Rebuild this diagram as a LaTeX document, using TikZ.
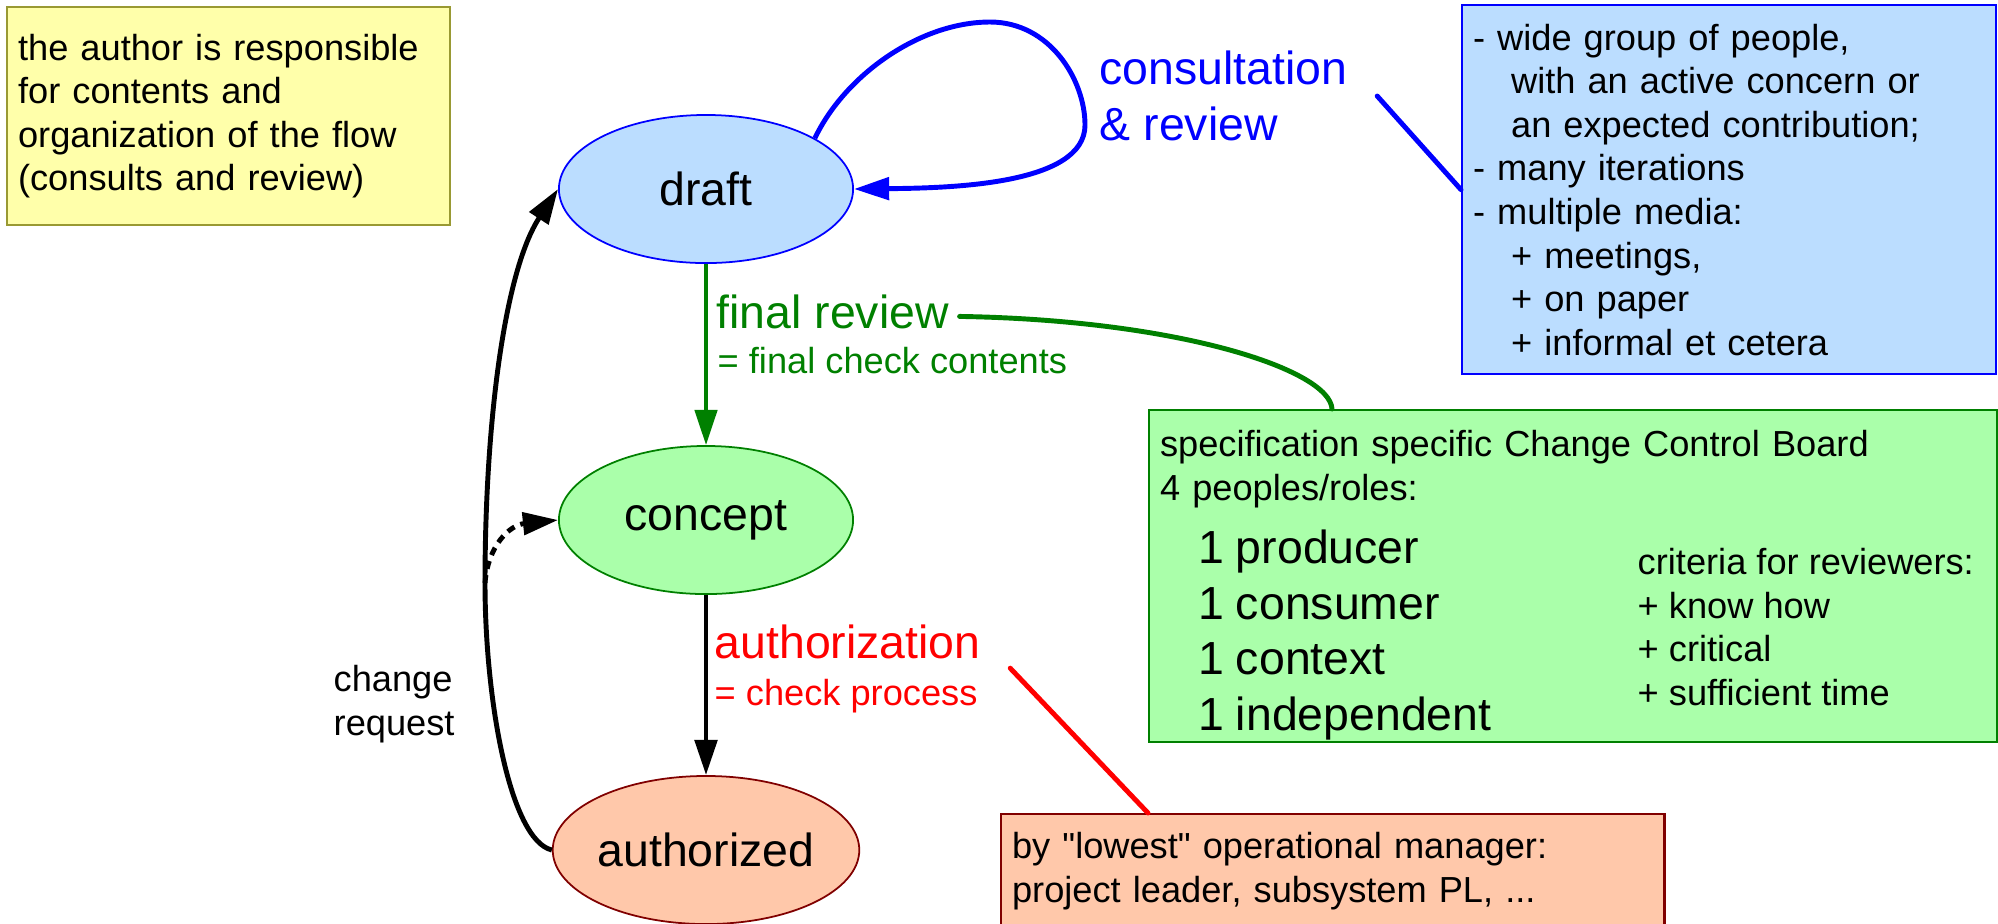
\documentclass[tikz,border=0pt]{standalone}
\usepackage{fontspec}
\setmainfont{Liberation Sans}[Ligatures=TeXOff]
\usetikzlibrary{shapes.geometric,arrows.meta,calc}
\definecolor{draftfill}{RGB}{187,221,255}
\definecolor{conceptfill}{RGB}{170,255,170}
\definecolor{authfill}{RGB}{255,200,170}
\definecolor{notefill}{RGB}{255,255,170}
\definecolor{noteline}{RGB}{153,153,51}
\definecolor{darkgreen}{RGB}{0,128,0}
\definecolor{darkred}{RGB}{128,0,0}
\newcommand\smallsz{\fontsize{10.3pt}{12.4pt}\selectfont}
\newcommand\bigsz{\fontsize{13.2pt}{15.8pt}\selectfont}

\begin{document}
\begin{tikzpicture}[x=0.01cm, y=-0.01cm,
	stage/.style={ellipse, draw, line width=0.5pt, minimum width=2.94cm, minimum height=1.48cm, inner sep=0pt, font=\bigsz},
	notebox/.style={draw, line width=0.6pt, anchor=north west, align=left, inner xsep=0.11cm, inner ysep=0pt, font=\smallsz},
	lbl/.style={inner sep=0pt, align=left},
	flowarrow/.style={-{Triangle[length=10pt,width=6.3pt]}, line width=1.4pt},
	pointer/.style={line width=1.4pt, line cap=round}]
	\useasboundingbox (0,0) rectangle (1998,923);
	\node[stage, fill=draftfill, draw=blue] (draft) at (706,189) {draft};
	\node[stage, fill=conceptfill, draw=darkgreen] (concept) at (706,520) {concept};
	\node[stage, fill=authfill, draw=darkred] (authorized) at (706,850) {authorized};
	\node[notebox, fill=notefill, draw=noteline, text width=4.21cm, minimum height=2.18cm] (authornote) at (6,6)
		{the author is responsible\\for contents and\\organization of the flow\\(consults and review)};
	\node[notebox, fill=draftfill, draw=blue, text width=5.12cm, minimum height=3.69cm] (consultbox) at (1461,4)
		{- wide group of people,\\\hspace*{0.38cm}with an active concern or\\\hspace*{0.38cm}an expected contribution;\\- many iterations\\- multiple media:\\\hspace*{0.38cm}+ meetings,\\\hspace*{0.38cm}+ on paper\\\hspace*{0.38cm}+ informal et cetera};
	\node[notebox, fill=conceptfill, draw=darkgreen, text width=8.25cm, minimum height=3.32cm] (ccbbox) at (1148,409)
		{\rule{0pt}{12.7pt}specification specific Change Control Board\\4 peoples/roles:\\[2.2pt]\bigsz\hspace*{0.38cm}1 producer\\\hspace*{0.38cm}1 consumer\\\hspace*{0.38cm}1 context\\\hspace*{0.38cm}1 independent\par};
	\node[lbl, font=\smallsz, anchor=west] (criteria) at (1637,627) {criteria for reviewers:\\+ know how\\+ critical\\+ sufficient time};
	\node[notebox, fill=authfill, draw=darkred, text width=6.41cm, minimum height=1.14cm] (mgrbox) at (1000,813)
		{by "lowest" operational manager:\\project leader, subsystem PL, ...};
	\node[lbl, font=\bigsz, text=blue, anchor=west] (consult) at (1099,96) {consultation\\\& review};
	\node[lbl, font=\bigsz, text=darkgreen, anchor=base west] (finalrev) at (716,328) {final review};
	\node[lbl, font=\smallsz, text=darkgreen, anchor=base west] (finalsub) at (717,373) {= final check contents};
	\node[lbl, font=\bigsz, text=red, anchor=base west] (authlbl) at (714,658) {authorization};
	\node[lbl, font=\smallsz, text=red, anchor=base west] (authsub) at (714,705) {= check process};
	\node[lbl, font=\smallsz, anchor=west] (changereq) at (333,704) {change\\request};
	\coordinate (branch) at (485,583);
	\draw[flowarrow, color=darkgreen, line width=1.2pt] (draft) -- (concept);
	\draw[flowarrow] (concept) -- (authorized);
	\draw[flowarrow, color=blue] (draft.25) .. controls (845,75) and (920,22) .. (990,22)
		.. controls (1050,22) and (1085,80) .. (1085,125) .. controls (1085,185) and (950,188) .. (draft.east);
	\draw[flowarrow] (authorized.west) .. controls (510,840) and (485,700) .. (branch)
		.. controls (485,420) and (505,270) .. (draft.west);
	\draw[flowarrow, dash pattern=on 2.3pt off 1.8pt] (branch) .. controls (488,545) and (510,525) .. (concept.west);
	\draw[pointer, color=blue] ([xshift=0.29cm]consult.east) -- (consultbox.west);
	\draw[pointer, color=darkgreen] ([shift={(10,5)}]finalrev.east) .. controls (1180,320) and (1330,370) .. ($(ccbbox.north west)+(184,0)$);
	\draw[pointer, color=red] ([shift={(29,9)}]authlbl.south east) -- ($(mgrbox.north west)+(148,0)$);
\end{tikzpicture}
\end{document}
